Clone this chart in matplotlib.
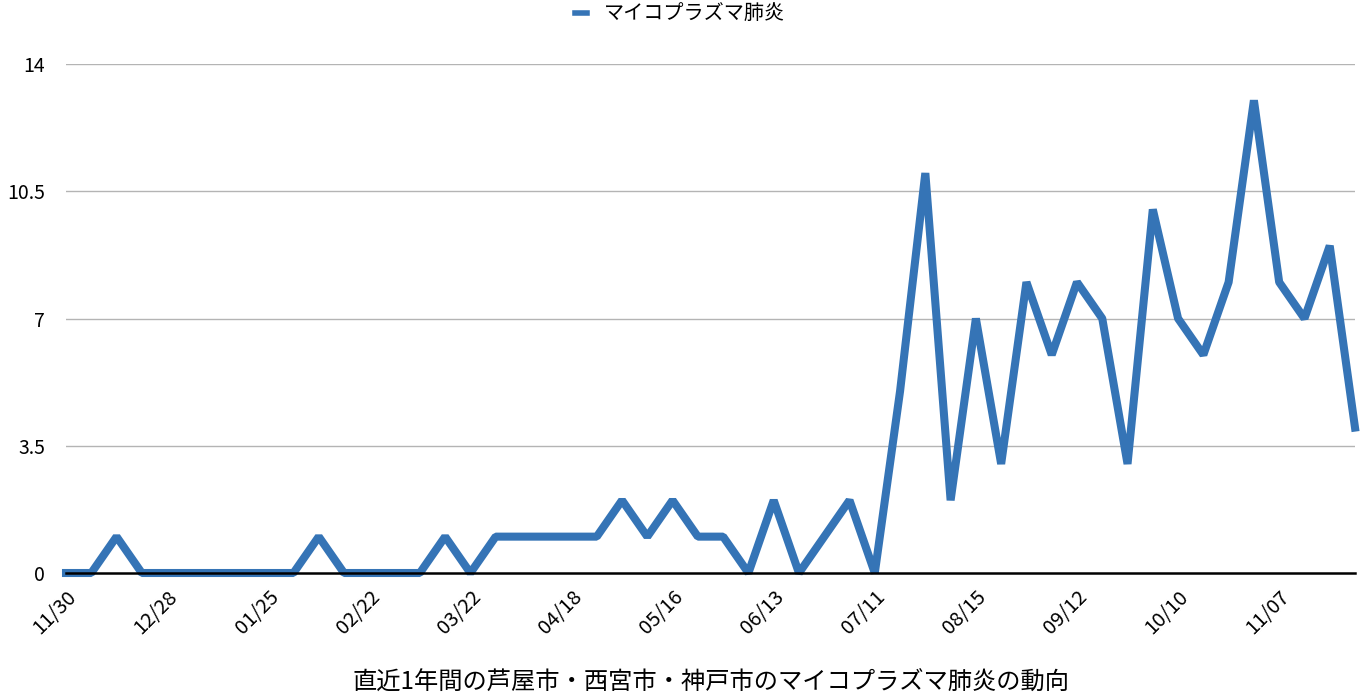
import matplotlib.pyplot as plt

plt.rcParams['font.family'] = ['Noto Sans CJK JP', 'DejaVu Sans']

series_name = 'マイコプラズマ肺炎'
xlabel = '直近1年間の芦屋市・西宮市・神戸市のマイコプラズマ肺炎の動向'
tick_labels = ['11/30', '12/28', '01/25', '02/22', '03/22', '04/18', '05/16',
               '06/13', '07/11', '08/15', '09/12', '10/10', '11/07']
cases = [0, 0, 1, 0, 0, 0, 0, 0, 0, 0, 1, 0, 0, 0, 0, 1, 0, 1, 1, 1,
         1, 1, 2, 1, 2, 1, 1, 0, 2, 0, 1, 2, 0, 5, 11, 2, 7, 3, 8, 6,
         8, 7, 3, 10, 7, 6, 8, 13, 8, 7, 9, 4]
yticks = [0, 3.5, 7, 10.5, 14]
ytick_labels = ['0', '3.5', '7', '10.5', '14']

fig = plt.figure(figsize=(13.6, 6.98), dpi=100)
ax = fig.add_axes([66 / 1360, 1 - 573 / 698, (1355 - 66) / 1360, (573 - 64) / 698])

x = list(range(len(cases)))
ax.plot(x, cases, color='#3574b6', lw=5.8, solid_joinstyle='bevel',
        label=series_name, clip_on=False, zorder=3)

ax.set_xlim(0, len(cases) - 1)
ax.set_ylim(0, 14)
ax.set_yticks(yticks)
ax.set_yticklabels(ytick_labels, fontsize=14)
ax.set_xticks(x[::4])
ax.set_xticklabels(tick_labels, rotation=45, ha='right', rotation_mode='anchor', fontsize=14.5)
ax.tick_params(length=0)
ax.tick_params(axis='y', pad=15)
ax.tick_params(axis='x', pad=10)

for v in yticks[1:]:
    ax.axhline(v, color='#b4b4b4', lw=1, zorder=1)
for s in ['left', 'right', 'top']:
    ax.spines[s].set_visible(False)
ax.spines['bottom'].set_color('black')
ax.spines['bottom'].set_linewidth(1.8)
ax.spines['bottom'].set_zorder(4)

ax.set_xlabel(xlabel, fontsize=17.5, labelpad=22)

leg = fig.legend(loc='upper center', bbox_to_anchor=(0.5, 1.02), frameon=False,
                 fontsize=14.5, handlelength=0.6, handletextpad=0.8)
for h in leg.get_lines():
    h.set_linewidth(4)

plt.savefig('out.png', dpi=100)
plt.close()
